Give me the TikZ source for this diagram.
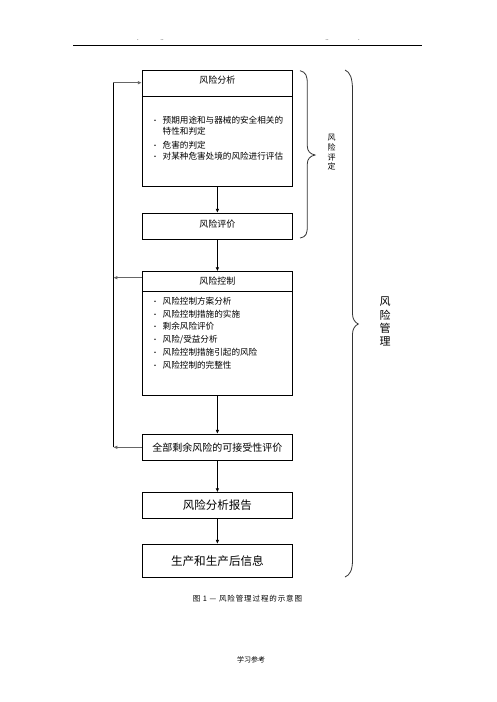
\documentclass[tikz,border=0pt]{standalone}
\usepackage{fontspec}
\setmainfont{Noto Sans CJK SC}
\newfontfamily\capfont[LetterSpace=12]{Noto Sans CJK SC}
\usetikzlibrary{arrows.meta}
\begin{document}
\begin{tikzpicture}[x=1pt,y=-1pt,
  box/.style={draw,line width=0.8pt,minimum width=150.3pt,inner sep=0pt,font=\fontsize{9}{11}\selectfont},
  item/.style={anchor=west,inner sep=0pt,font=\fontsize{8.6}{10}\selectfont},
  flow/.style={line width=0.8pt,-{Latex[length=4pt,width=3.6pt]}},
  back/.style={line width=1.1pt,draw=black!60,-{Latex[length=4pt,width=3.6pt]}},
  brace/.style={line width=0.8pt,draw=black!80},
  small/.style={inner sep=0pt,font=\fontsize{6}{7}\selectfont}]
\useasboundingbox (0,0) rectangle (496,702);
% header
\draw[line width=0.6pt] (73,45) coordinate (hl) -- (422,45) coordinate (hr);
\node[small] (d1) at (138,40) {.};
\node[small] (d2) at (162,40) {..};
\node[small] (d3) at (327,40) {..};
\node[small] (d4) at (359,40) {.};
% boxes
\node[box,minimum height=116pt] (b1) at (217.4,128.7) {};
\draw[line width=0.8pt] (b1.west |- 0,96) -- (b1.east |- 0,96);
\node[inner sep=0pt,font=\fontsize{9}{11}\selectfont] (t1) at (217.4,80) {风险分析};
\node[box,minimum height=26pt] (b2) at (217.4,226.3) {};
\node[inner sep=0pt,font=\fontsize{9}{11}\selectfont] (t2) at (217.4,224) {风险评价};
\node[box,minimum height=124pt] (b3) at (217.4,333.7) {};
\draw[line width=0.8pt] (b3.west |- 0,291.7) -- (b3.east |- 0,291.7);
\node[inner sep=0pt,font=\fontsize{9}{11}\selectfont] (t3) at (217.4,281.5) {风险控制};
\node[box,minimum height=26pt,font=\fontsize{10}{12}\selectfont] (b4) at (217.4,447.3) {全部剩余风险的可接受性评价};
\node[box,minimum height=25.6pt,font=\fontsize{11.5}{13}\selectfont] (b5) at (217.4,505.5) {风险分析报告};
\node[box,minimum height=33pt,font=\fontsize{11.6}{13}\selectfont] (b6) at (217.4,560.8) {生产和生产后信息};
% list 1
\foreach \n/\yy/\bul/\txt in {a1/120/•/预期用途和与器械的安全相关的, a2/131.7//特性和判定, a3/145/•/危害的判定, a4/156.7/•/对某种危害处境的风险进行评估}{
  \node[item] (\n) at (151.5,\yy) {\makebox[11pt][l]{\fontsize{7}{8}\selectfont\bul}\txt};
}
% list 2
\foreach \n/\yy/\txt in {c1/301/风险控制方案分析, c2/313.8/风险控制措施的实施, c3/326.6/剩余风险评价, c4/339.4/{风险/受益分析}, c5/352.2/风险控制措施引起的风险, c6/365/风险控制的完整性}{
  \node[item] (\n) at (151.5,\yy) {\makebox[11pt][l]{\fontsize{7}{8}\selectfont •}\txt};
}
% flow arrows
\draw[flow] (b1.south) -- (b2.north);
\draw[flow] (b2.south) -- (b3.north);
\draw[flow] (b3.south) -- (b4.north);
\draw[flow] (b4.south) -- (b5.north);
\draw[flow] (b5.south) -- (b6.north);
% feedback
\coordinate (fbtop) at (113.3,82.7);
\coordinate (fbmid) at (113.3,277.7);
\coordinate (fbbot) at (113.3,447.3);
\draw[line width=0.8pt] (fbbot) -- (fbtop);
\draw[back] (fbtop) -- (fbtop -| b1.west);
\draw[back] (b3.west |- fbmid) -- (fbmid);
\draw[back] (b4.west) -- (fbbot);
% small brace
\draw[brace] (300,70.7) .. controls (306,72) and (307.3,76) .. (307.3,84)
  -- (307.3,146) .. controls (307.3,151) and (310,154) .. (315,155)
  .. controls (310,156) and (307.3,159) .. (307.3,164)
  -- (307.3,226) .. controls (307.3,234) and (306,237) .. (300,238);
\node[inner sep=0pt,align=center,font=\fontsize{8}{9.7}\selectfont] (r1) at (331.7,152.5) {风\\险\\评\\定};
% big brace
\draw[brace] (345,70) .. controls (350,72) and (352.5,78) .. (352.5,90)
  -- (352.5,314) .. controls (352.5,319) and (355,322.5) .. (358.3,324)
  .. controls (355,325.5) and (352.5,329) .. (352.5,334)
  -- (352.5,560) .. controls (352.5,570) and (350,575) .. (345,577);
\node[inner sep=0pt,align=center,font=\fontsize{11}{13.3}\selectfont] (r2) at (385,321.7) {风\\险\\管\\理};
% caption and footer
\node[inner sep=0pt,font=\capfont\fontsize{7.5}{9}\selectfont] (cap) at (247.5,598.5) {图 1 — 风险管理过程的示意图};
\node[inner sep=0pt,font=\fontsize{7}{8}\selectfont] (foot) at (251,660) {学习参考};
\end{tikzpicture}
\end{document}
